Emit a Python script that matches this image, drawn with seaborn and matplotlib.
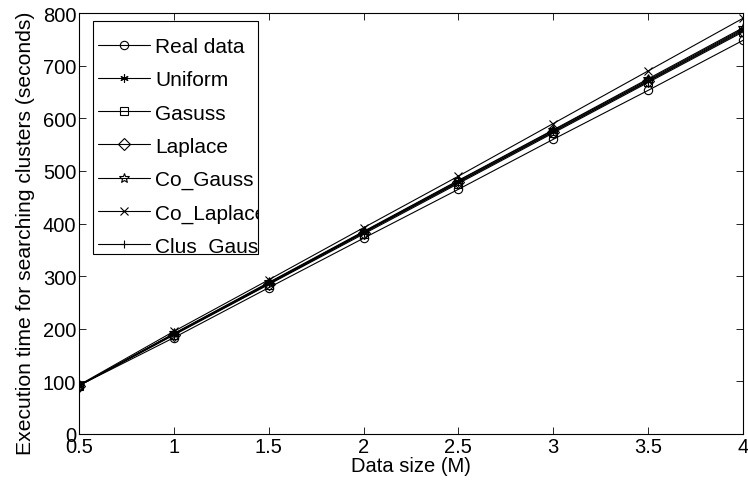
import pandas as pd
import seaborn as sns
import matplotlib.pyplot as plt
from matplotlib.patches import Rectangle
import numpy as np

# 데이터 크기 (M)
data_size = [0.5, 1, 1.5, 2, 2.5, 3, 3.5, 4]

# 각 분포별 실행 시간 (초)
real_data = [92, 183, 278, 372, 465, 560, 653, 748]
uniform = [92, 190, 286, 383, 479, 575, 671, 768]
gasuss = [92, 188, 284, 380, 476, 572, 668, 764]
laplace = [92, 189, 285, 382, 478, 574, 670, 766]
co_gauss = [92, 191, 288, 385, 482, 578, 675, 772]
co_laplace = [93, 195, 293, 392, 490, 590, 690, 790]
clus_gauss = [92, 190, 287, 384, 481, 577, 673, 770]

series = [
    ('Real data', real_data, 'o'),
    ('Uniform', uniform, (6, 2, 0)),
    ('Gasuss', gasuss, 's'),
    ('Laplace', laplace, 'D'),
    ('Co_Gauss', co_gauss, '*'),
    ('Co_Laplace', co_laplace, 'x'),
    ('Clus_Gauss', clus_gauss, '+'),
]

sns.set_style('ticks')
plt.rcParams['font.family'] = ['Liberation Sans', 'DejaVu Sans']
plt.rcParams['xtick.direction'] = 'in'
plt.rcParams['ytick.direction'] = 'in'
plt.rcParams['text.color'] = 'black'
plt.rcParams['axes.labelcolor'] = 'black'
plt.rcParams['xtick.color'] = 'black'
plt.rcParams['ytick.color'] = 'black'

fs = 14.5

fig = plt.figure(figsize=(7.48, 4.85), dpi=100)
ax = fig.add_axes([0.1056, 0.1031, 0.8877, 0.868])

for name, values, mk in series:
    df = pd.DataFrame({'size': data_size, 'time': values})
    size = 7 if mk == '*' else 6
    sns.lineplot(x='size', y='time', data=df, ax=ax, color='black', linewidth=0.8,
                 marker=mk, markersize=size, markerfacecolor='none',
                 markeredgecolor='black', markeredgewidth=0.8, label=name)

# 축 범위 및 눈금 설정
ax.set_xlim(0.5, 4)
ax.set_ylim(0, 800)
ax.set_xticks(np.arange(0.5, 4.01, 0.5))
ax.set_xticklabels(['0.5', '1', '1.5', '2', '2.5', '3', '3.5', '4'])
ax.set_yticks(np.arange(0, 801, 100))
ax.tick_params(labelsize=fs, top=True, right=True, length=5, width=0.6, pad=2)
for sp in ax.spines.values():
    sp.set_linewidth(0.8)
    sp.set_color('black')

ax.set_xlabel('Data size (M)', fontsize=fs, labelpad=0)
ax.set_ylabel('Execution time for searching clusters (seconds)', fontsize=15.2)
ax.yaxis.set_label_coords(-0.066, 0.48)

# 범례: MATLAB처럼 고정 크기 상자 안에 넣고 넘치는 글자는 잘라냄
box = Rectangle((0.0211, 0.4276), 0.2485, 0.5534, transform=ax.transAxes,
                facecolor='white', edgecolor='black', linewidth=0.8, zorder=4)
ax.add_patch(box)
leg = ax.legend(loc='upper left', bbox_to_anchor=(0.0211, 0.955), borderaxespad=0,
                fontsize=15, frameon=False, handlelength=2.5, labelspacing=0.68,
                borderpad=0.25, handletextpad=0.25)
leg.set_zorder(5)
for t in leg.get_texts():
    t.set_clip_path(box)

fig.savefig('out.png', dpi=100)
